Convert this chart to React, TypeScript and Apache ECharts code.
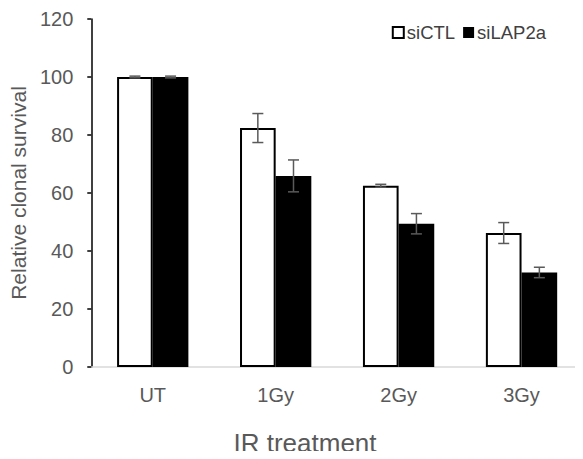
import React, { useEffect, useRef } from "react";
import * as echarts from "echarts";

const categories = ["UT", "1Gy", "2Gy", "3Gy"];
const siCTL = [100, 82.4, 62.5, 46.2];
const siCTLErr = [0.3, 5.0, 0.5, 3.6];
const siLAP2a = [100, 65.9, 49.4, 32.6];
const siLAP2aErr = [0.3, 5.5, 3.5, 1.8];
const yTicks = { min: 0, max: 120, interval: 20 };

const FONT = "'Liberation Sans', Arial, sans-serif";
const GAP = 0.42;

function errorSeries(name: string, values: number[], errs: number[], side: number) {
  return {
    type: "custom",
    name: name + " err",
    z: 10,
    data: values.map((v, i) => [i, v, errs[i]]),
    renderItem: (params: any, api: any) => {
      const i = api.value(0);
      const v = api.value(1);
      const e = api.value(2);
      const band = api.size([1, 0])[0];
      const bw = (band * (1 - GAP)) / 2;
      const cx = api.coord([i, v])[0] + side * bw / 2;
      const yTop = api.coord([i, v + e])[1];
      const yBot = api.coord([i, v - e])[1];
      const cap = 5.5;
      const style = { stroke: "#5a5a5a", lineWidth: 1.5, fill: "none" };
      return {
        type: "group",
        children: [
          { type: "line", shape: { x1: cx, y1: yTop, x2: cx, y2: yBot }, style },
          { type: "line", shape: { x1: cx - cap, y1: yTop, x2: cx + cap, y2: yTop }, style },
          { type: "line", shape: { x1: cx - cap, y1: yBot, x2: cx + cap, y2: yBot }, style },
        ],
      };
    },
  };
}

export default function App() {
  const ref = useRef<HTMLDivElement>(null);
  useEffect(() => {
    if (!ref.current) return;
    const chart = echarts.init(ref.current, null, { renderer: "svg" });
    chart.setOption({
      animation: false,
      backgroundColor: "#ffffff",
      textStyle: { fontFamily: FONT },
      grid: { left: 91, right: -8, top: 19, bottom: 92, containLabel: false },
      legend: {
        top: 18,
        right: 32,
        itemWidth: 11,
        itemHeight: 11,
        itemGap: 8,
        icon: "rect",
        textStyle: { fontSize: 18.5, color: "#404040", fontFamily: FONT, padding: [0, 0, 0, -2] },
        data: ["siCTL", "siLAP2a"],
      },
      xAxis: {
        type: "category",
        data: categories,
        axisLine: { lineStyle: { color: "#d9d9d9", width: 1.5 } },
        axisTick: { show: false },
        axisLabel: { fontSize: 20, color: "#595959", margin: 18, fontFamily: FONT },
      },
      yAxis: {
        type: "value",
        min: yTicks.min,
        max: yTicks.max,
        interval: yTicks.interval,
        splitLine: { show: false },
        axisLine: { show: true, lineStyle: { color: "#000000", width: 1.5 } },
        axisTick: { show: true, length: 4, lineStyle: { color: "#000000", width: 1.5 } },
        axisLabel: { fontSize: 20, color: "#595959", margin: 18, fontFamily: FONT },
        name: "Relative clonal survival",
        nameLocation: "middle",
        nameGap: 60,
        nameTextStyle: { fontSize: 21, color: "#595959", fontFamily: FONT },
      },
      graphic: [
        {
          type: "text",
          x: 305,
          y: 443,
          style: {
            text: "IR treatment",
            fontSize: 26,
            fill: "#595959",
            fontFamily: FONT,
            align: "center",
            verticalAlign: "middle",
          },
        },
      ],
      series: [
        {
          name: "siCTL",
          type: "bar",
          data: siCTL,
          barGap: "0%",
          barCategoryGap: "42%",
          itemStyle: { color: "#ffffff", borderColor: "#000000", borderWidth: 2 },
        },
        {
          name: "siLAP2a",
          type: "bar",
          data: siLAP2a,
          itemStyle: { color: "#000000", borderColor: "#000000", borderWidth: 0 },
        },
        errorSeries("siCTL", siCTL, siCTLErr, -1),
        errorSeries("siLAP2a", siLAP2a, siLAP2aErr, 1),
      ],
    });
    return () => chart.dispose();
  }, []);
  return <div ref={ref} style={{ width: 583, height: 459, margin: -8 }} />;
}
